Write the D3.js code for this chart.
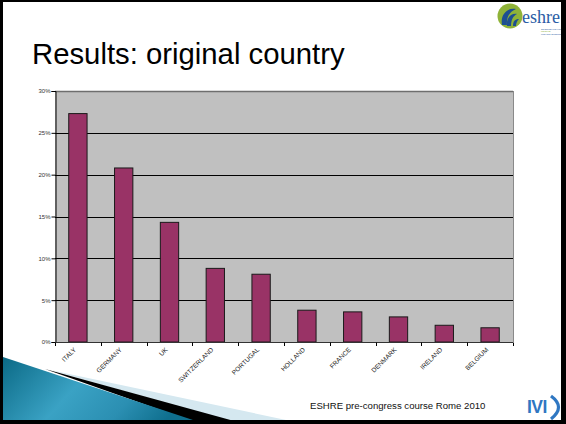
<!DOCTYPE html>
<html>
<head>
<meta charset="utf-8">
<script src="https://cdn.jsdelivr.net/npm/d3@7"></script>
<style>
  html, body { margin: 0; padding: 0; background: #fff; }
  svg { display: block; }
</style>
</head>
<body>
<script>
const countries = ["ITALY", "GERMANY", "UK", "SWITZERLAND", "PORTUGAL", "HOLLAND", "FRANCE", "DENMARK", "IRELAND", "BELGIUM"];
const shares = [27.3, 20.8, 14.3, 8.8, 8.1, 3.8, 3.6, 3.0, 2.0, 1.7];
const yTicks = [0, 5, 10, 15, 20, 25, 30];
const titleText = "Results: original country";
const footerText = "ESHRE pre-congress course Rome 2010";

const W = 566, H = 424;
const svg = d3.select("body").append("svg").attr("width", W).attr("height", H)
  .attr("font-family", "Liberation Sans, Arial, sans-serif");

svg.append("rect").attr("x", 0).attr("y", 0).attr("width", W).attr("height", H).attr("fill", "#fff");

// decorative wedges bottom-left
const defs = svg.append("defs");
const grad = defs.append("linearGradient").attr("id", "blueGrad")
  .attr("x1", "0%").attr("y1", "0%").attr("x2", "100%").attr("y2", "30%");
grad.append("stop").attr("offset", "0%").attr("stop-color", "#0b6a86");
grad.append("stop").attr("offset", "45%").attr("stop-color", "#3aa2c4");
grad.append("stop").attr("offset", "75%").attr("stop-color", "#2b8fb2");
grad.append("stop").attr("offset", "100%").attr("stop-color", "#0f6f8e");

svg.append("path").attr("d", "M50,370 L305,424 L240,424 Z").attr("fill", "#d5e8f0");
svg.append("path").attr("d", "M45,369 L245,424 L200,424 Z").attr("fill", "#000");
svg.append("path").attr("d", "M3,357 L205,424 L3,424 Z").attr("fill", "url(#blueGrad)");

// title
svg.append("text").attr("x", 32).attr("y", 64).attr("font-size", 29.3).attr("fill", "#000").text(titleText);

// eshre logo
const logo = svg.append("g").attr("transform", "translate(510,16)");
logo.append("circle").attr("r", 12.5).attr("fill", "#8fb338");
logo.append("path").attr("d", "M-8,9 C-10,-2 -2,-9 6,-7 C1,-5 -4,0 -3,9 Z").attr("fill", "#1d4f91");
logo.append("path").attr("d", "M-3,10 C-4,2 1,-3 7,-2 C3,0 1,4 1,10 Z").attr("fill", "#1d4f91");
logo.append("path").attr("d", "M3,10 C3,5 5,3 9,3 C7,5 6,7 6,10 Z").attr("fill", "#1d4f91");
svg.append("text").attr("x", 522).attr("y", 23).attr("font-size", 18)
  .attr("font-family", "Liberation Serif, 'DejaVu Serif', serif").attr("fill", "#2a5ca4").text("eshre");
const tag = ["SCIENCE MOVING", "PEOPLE", "MOVING SCIENCE"];
const tagColors = ["#2a5ca4", "#8fb338", "#2a5ca4"];
tag.forEach((t, i) => {
  svg.append("text").attr("x", 541).attr("y", 29.5 + i * 2.8).attr("font-size", 2.4)
    .attr("fill", tagColors[i]).text(t);
});

// chart
const m = { left: 55, top: 91, right: 513, bottom: 342 };
const x = d3.scaleBand().domain(countries).range([m.left, m.right]).paddingInner(0.6).paddingOuter(0.3);
const step = x.step();
const y = d3.scaleLinear().domain([0, 30]).range([m.bottom, m.top]);

const g = svg.append("g");
g.append("rect").attr("x", m.left).attr("y", m.top).attr("width", m.right - m.left).attr("height", m.bottom - m.top)
  .attr("fill", "#c0c0c0");

g.selectAll("line.grid").data(yTicks.filter(v => v > 0 && v < 30)).enter().append("line")
  .attr("x1", m.left).attr("x2", m.right).attr("y1", d => Math.round(y(d)) + 0.5).attr("y2", d => Math.round(y(d)) + 0.5)
  .attr("stroke", "#000").attr("stroke-width", 1);
g.append("line").attr("x1", m.left).attr("x2", m.right).attr("y1", m.top + 0.5).attr("y2", m.top + 0.5)
  .attr("stroke", "#6e6e6e").attr("stroke-width", 1.3);
g.append("line").attr("x1", m.right + 0.5).attr("x2", m.right + 0.5).attr("y1", m.top).attr("y2", m.bottom)
  .attr("stroke", "#8a8a8a").attr("stroke-width", 1);

g.selectAll("rect.bar").data(countries).enter().append("rect")
  .attr("x", d => x(d)).attr("width", x.bandwidth())
  .attr("y", (d, i) => y(shares[i])).attr("height", (d, i) => y(0) - y(shares[i]))
  .attr("fill", "#993366").attr("stroke", "#1a1a1a").attr("stroke-width", 1);

const yAxis = d3.axisLeft(y).tickValues(yTicks).tickSize(4).tickFormat(d => d + "%");
const ya = svg.append("g").attr("transform", `translate(${m.left + 0.5},0)`).call(yAxis);
ya.attr("font-family", "Liberation Sans, Arial, sans-serif");
ya.select(".domain").attr("stroke", "#000");
ya.selectAll(".tick line").attr("stroke", "#000");
ya.selectAll(".tick text").attr("font-size", 6).attr("fill", "#333").attr("x", -5);

const xa = svg.append("g").attr("transform", `translate(0,${m.bottom + 0.5})`);
xa.append("line").attr("x1", m.left).attr("x2", m.right).attr("stroke", "#333").attr("stroke-width", 1.2);
const bounds = d3.range(countries.length + 1).map(i => m.left + i * step);
xa.selectAll("line.tk").data(bounds).enter().append("line")
  .attr("x1", d => Math.round(d) + 0.5).attr("x2", d => Math.round(d) + 0.5).attr("y1", 0).attr("y2", 3.5)
  .attr("stroke", "#000");
xa.selectAll("text.lbl").data(countries).enter().append("text")
  .attr("transform", d => `translate(${x(d) + x.bandwidth() / 2 - 3},${6}) rotate(-45)`)
  .attr("text-anchor", "end").attr("dy", "0.35em").attr("font-size", 6.5).attr("fill", "#222").text(d => d);

// footer
svg.append("text").attr("x", 310).attr("y", 409).attr("font-size", 9.6).attr("fill", "#111").text(footerText);

// IVI logo
svg.append("text").attr("x", 527).attr("y", 413).attr("font-size", 17.5).attr("font-weight", "bold")
  .attr("fill", "#2f77c2").attr("letter-spacing", "-0.5").text("IVI");
svg.append("path").attr("d", "M551,396 Q566,407 551,419").attr("fill", "none").attr("stroke", "#2f77c2").attr("stroke-width", 3.2);

// black slide frame
svg.append("rect").attr("x", 0).attr("y", 0).attr("width", W).attr("height", 2).attr("fill", "#000");
svg.append("rect").attr("x", 0).attr("y", 0).attr("width", 3).attr("height", H).attr("fill", "#000");
svg.append("rect").attr("x", 561).attr("y", 0).attr("width", 5).attr("height", H).attr("fill", "#000");
svg.append("rect").attr("x", 0).attr("y", 420).attr("width", W).attr("height", 4).attr("fill", "#000");
</script>
</body>
</html>
